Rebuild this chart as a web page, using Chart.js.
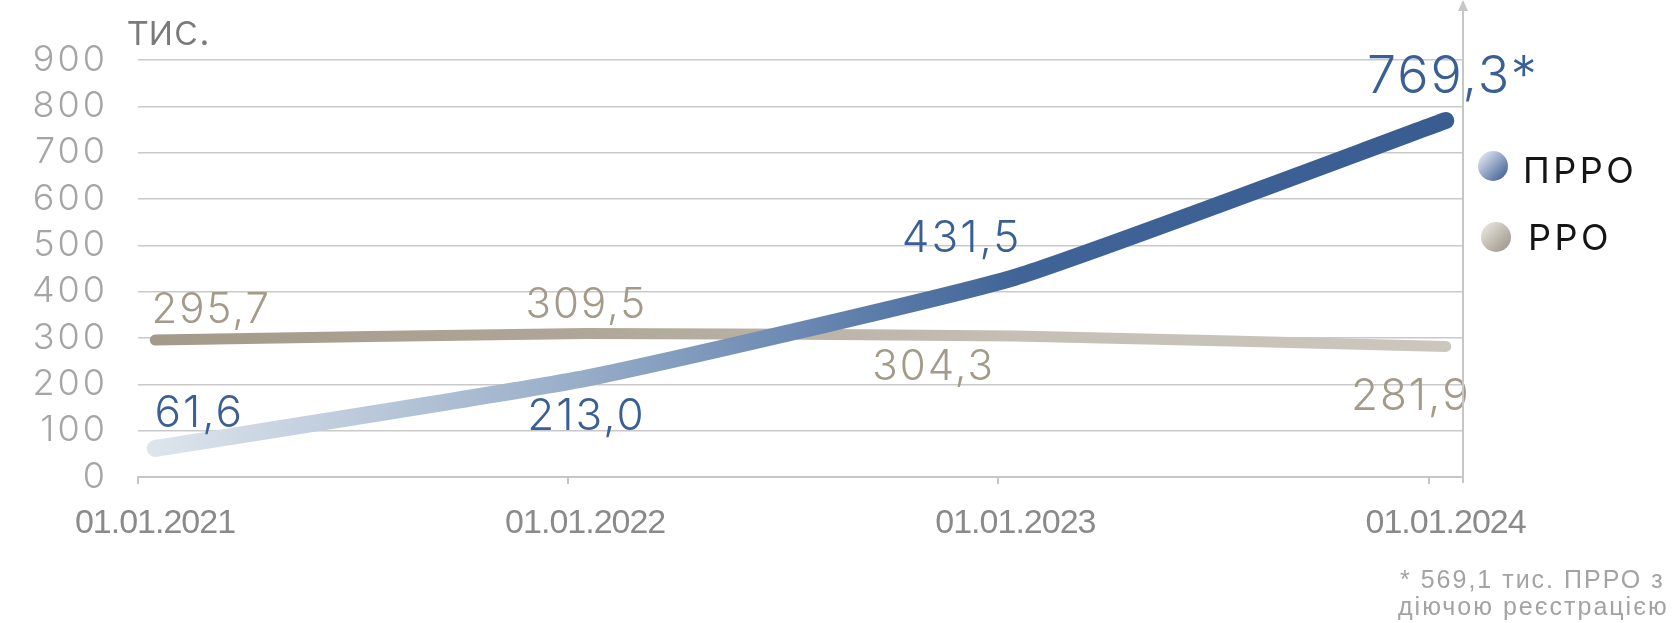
<!DOCTYPE html>
<html lang="uk">
<head>
<meta charset="utf-8">
<title>ПРРО та РРО</title>
<script src="https://cdn.jsdelivr.net/npm/chart.js@4.4.1/dist/chart.umd.min.js"></script>
<style>
  html, body { margin: 0; padding: 0; background: #fff; }
  #wrap { position: relative; width: 1672px; height: 623px; overflow: hidden; }
  #chart { position: absolute; left: 0; top: 0; }
  .legend-item { position: absolute; font-family: Inter, 'Noto Sans', sans-serif; font-size: 36px; line-height: 36px; color: #151515; letter-spacing: 3.5px; white-space: nowrap; }
  .dot { position: absolute; width: 30px; height: 30px; border-radius: 50%; }
  .note { position: absolute; font-family: 'Liberation Sans', Arial, sans-serif; font-size: 25px; line-height: 25px; color: #a3a3a3; letter-spacing: 2px; white-space: nowrap; }
</style>
</head>
<body>
<div id="wrap">
  <canvas id="chart" width="1672" height="623"></canvas>

  <!-- легенда -->
  <div class="dot" style="left:1478px; top:151px; background: linear-gradient(135deg, #d6dee8 15%, #45629a 90%);"></div>
  <div class="legend-item" style="left:1523px; top:152px;">ПРРО</div>
  <div class="dot" style="left:1481px; top:222px; background: linear-gradient(135deg, #e2dfd8 15%, #a0988a 90%);"></div>
  <div class="legend-item" style="left:1528px; top:219px;">РРО</div>

  <!-- примітка -->
  <div class="note" style="left:1400px; top:567px;">* 569,1 тис. ПРРО з</div>
  <div class="note" style="left:1398px; top:594px;">діючою реєстрацією</div>
</div>

<script>
// Дані
const dates = ['01.01.2021', '01.01.2022', '01.01.2023', '01.01.2024'];
const prro = [61.6, 213.0, 431.5, 769.3];
const rro = [295.7, 309.5, 304.3, 281.9];
const prroNotes = ['', '', '', '*'];
const rroNotes = ['', '', '', ''];
const yMax = 900;
const yStep = 100;
const unitLabel = 'тис.';

// Оформлення підписів значень (зсуви від точки, px)
const labelStyle = [
    { color: '#3a5f94', offsets: [[44, -37], [1, 36], [-54, -41], [7, -46]], sizes: [44, 44, 44, 52] },
    { color: '#a39a89', offsets: [[56, -32], [1, -31], [-82, 29], [-35, 48]], sizes: [42, 42, 42, 44] }
];

// Градієнт уздовж лінії
function lineGradient(context, stops, fallback) {
    const chart = context.chart;
    const xs = chart.scales.xd;
    if (!chart.chartArea || !xs) return fallback;
    const x0 = xs.getPixelForValue(0);
    const x1 = xs.getPixelForValue(dates.length - 1);
    const g = chart.ctx.createLinearGradient(x0, 0, x1, 0);
    stops.forEach(s => g.addColorStop(s[0], s[1]));
    return g;
}

const fmt = v => v.toFixed(1).replace('.', ',');

// Плагін: підписи, стрілка осі, одиниці, міжлітерні інтервали
const decorPlugin = {
    id: 'decor',
    beforeDraw(chart) {
        chart.ctx.letterSpacing = '3px'; // для підписів осі Y
    },
    afterDatasetsDraw(chart) {
        const ctx = chart.ctx;
        ctx.save();
        ctx.letterSpacing = '2px';
        ctx.textAlign = 'center';
        ctx.textBaseline = 'alphabetic';
        chart.data.datasets.forEach((ds, di) => {
            const meta = chart.getDatasetMeta(di);
            const st = labelStyle[di];
            const notes = di === 0 ? prroNotes : rroNotes;
            meta.data.forEach((pt, i) => {
                const size = st.sizes[i];
                ctx.font = `300 ${size}px Inter, 'Noto Sans', sans-serif`;
                ctx.fillStyle = st.color;
                const [dx, dy] = st.offsets[i];
                ctx.fillText(fmt(ds.data[i].y) + notes[i], pt.x + dx, pt.y + dy + size * 0.36);
            });
        });
        ctx.restore();
        ctx.letterSpacing = '-1px'; // для підписів осі X
    },
    afterDraw(chart) {
        const ctx = chart.ctx;
        const area = chart.chartArea;
        ctx.letterSpacing = '0px';
        ctx.save();
        // вертикальна вісь праворуч зі стрілкою
        const x = Math.round(area.right);
        ctx.strokeStyle = '#c6c6c6';
        ctx.fillStyle = '#c6c6c6';
        ctx.lineWidth = 2;
        ctx.beginPath();
        ctx.moveTo(x, 8);
        ctx.lineTo(x, area.bottom + 6);
        ctx.stroke();
        ctx.beginPath();
        ctx.moveTo(x - 5, 11);
        ctx.lineTo(x + 5, 11);
        ctx.lineTo(x, 0);
        ctx.closePath();
        ctx.fill();
        // одиниці виміру
        ctx.font = `300 44px Inter, 'Noto Sans', sans-serif`;
        ctx.fillStyle = '#7a7a7a';
        ctx.textAlign = 'left';
        ctx.textBaseline = 'alphabetic';
        ctx.fillText(unitLabel, area.left - 10, area.top - 15);
        ctx.restore();
    }
};

const chart = new Chart(document.getElementById('chart'), {
    type: 'line',
    data: {
        datasets: [
            {
                label: 'ПРРО',
                data: prro.map((v, i) => ({ x: i, y: v })),
                xAxisID: 'xd',
                borderWidth: 17,
                borderCapStyle: 'round',
                borderJoinStyle: 'round',
                tension: 0.15,
                pointRadius: 0,
                borderColor: c => lineGradient(c, [[0, '#dde4ec'], [0.33, '#97adc8'], [0.5, '#6a88b2'], [0.67, '#406497'], [1, '#395d91']], '#395d91')
            },
            {
                label: 'РРО',
                data: rro.map((v, i) => ({ x: i, y: v })),
                xAxisID: 'xd',
                borderWidth: 11,
                borderCapStyle: 'round',
                borderJoinStyle: 'round',
                tension: 0.2,
                pointRadius: 0,
                borderColor: c => lineGradient(c, [[0, '#a39a8a'], [0.33, '#afa697'], [0.67, '#c5bfb4'], [1, '#cbc7be']], '#b5ad9f')
            }
        ]
    },
    options: {
        responsive: false,
        animation: false,
        devicePixelRatio: 1,
        layout: { padding: { top: 60, right: 209, bottom: 0, left: 0 } },
        plugins: {
            legend: { display: false },
            tooltip: { enabled: false }
        },
        scales: {
            xd: {
                type: 'linear',
                display: false,
                min: -0.04,
                max: 3.04
            },
            x: {
                type: 'linear',
                position: 'bottom',
                min: 0,
                max: 3.08,
                afterBuildTicks: scale => { scale.ticks = dates.map((d, i) => ({ value: i })); },
                afterFit: scale => { scale.height = 146; },
                grid: { display: true, drawOnChartArea: false, tickLength: 7, color: '#c6c6c6', lineWidth: 2 },
                border: { display: true, color: '#c6c6c6', width: 2 },
                ticks: {
                    z: 1,
                    autoSkip: false,
                    maxRotation: 0,
                    labelOffset: 17,
                    padding: 19,
                    color: '#8a8a8a',
                    font: { family: "'Liberation Sans', Arial, sans-serif", size: 34 },
                    callback: v => dates[v]
                }
            },
            y: {
                min: 0,
                max: yMax,
                afterFit: scale => { scale.width = 138; },
                grid: { color: '#c9c9c9', lineWidth: 1.5, drawTicks: false },
                border: { display: false },
                ticks: {
                    stepSize: yStep,
                    padding: 30,
                    color: '#a5a5a5',
                    font: { family: "Inter, 'Noto Sans', sans-serif", size: 36, weight: 300 }
                }
            }
        }
    },
    plugins: [decorPlugin]
});
</script>
</body>
</html>
